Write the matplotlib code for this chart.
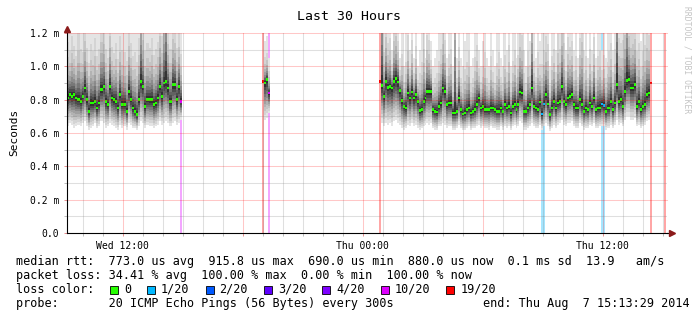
import numpy as np
import matplotlib
matplotlib.use("Agg")
import matplotlib.pyplot as plt
from matplotlib.patches import Rectangle

# ---------------- data ----------------
title = "Last 30 Hours"
y_label = "Seconds"
t_start, t_end = 9.225, 39.225          # hours since Wed 00:00 (30 h window)
x_tick_hours = [12, 24, 36]
x_tick_labels = ["Wed 12:00", "Thu 00:00", "Thu 12:00"]
y_tick_values = [0.0, 0.2, 0.4, 0.6, 0.8, 1.0, 1.2]
y_tick_labels = ["0.0", "0.2 m", "0.4 m", "0.6 m", "0.8 m", "1.0 m", "1.2 m"]

# segment 1 (Wed morning)
seg1_span = (9.225, 14.975)
seg1_median = [0.81, 0.83, 0.82, 0.83, 0.81, 0.80, 0.79, 0.82, 0.87, 0.80,
               0.73, 0.78, 0.78, 0.79, 0.75, 0.78, 0.86, 0.88, 0.79, 0.77,
               0.88, 0.81, 0.80, 0.79, 0.75, 0.83, 0.77, 0.77, 0.73, 0.85,
               0.80, 0.75, 0.73, 0.71, 0.80, 0.91, 0.88, 0.76, 0.80, 0.80,
               0.80, 0.77, 0.78, 0.81, 0.88, 0.82, 0.90, 0.91, 0.87, 0.79,
               0.89, 0.89, 0.80, 0.88, 0.79]
seg1_hi = [1.35, 1.25, 1.4, 1.3, 1.22, 1.45, 1.3, 1.25, 1.5, 1.3,
           1.2, 1.35, 1.28, 1.4, 1.25, 1.3, 1.5, 1.45, 1.3, 1.22,
           1.55, 1.3, 1.25, 1.35, 1.22, 1.4, 1.3, 1.28, 1.22, 1.45,
           1.35, 1.25, 1.3, 1.22, 1.4, 2.0, 1.5, 1.3, 1.35, 1.3,
           1.4, 1.25, 1.3, 1.35, 1.55, 1.4, 1.8, 2.5, 1.45, 1.3,
           1.5, 1.45, 1.3, 1.4, 1.25]
seg1_lo = [0.64, 0.66, 0.65, 0.63, 0.64, 0.65, 0.64, 0.66, 0.67, 0.64,
           0.62, 0.63, 0.64, 0.66, 0.63, 0.64, 0.67, 0.66, 0.63, 0.64,
           0.66, 0.65, 0.64, 0.63, 0.62, 0.65, 0.63, 0.64, 0.62, 0.66,
           0.65, 0.63, 0.63, 0.62, 0.64, 0.67, 0.66, 0.63, 0.65, 0.64,
           0.64, 0.63, 0.64, 0.65, 0.67, 0.65, 0.66, 0.67, 0.66, 0.64,
           0.66, 0.67, 0.65, 0.66, 0.68]
seg1_loss = {54: 10}

# segment 2 (short burst Wed evening)
seg2_span = (18.99, 19.375)
seg2_median = [0.91, 0.90, 0.92, 0.84]
seg2_hi = [0.91, 1.15, 1.18, 1.05]
seg2_lo = [0.91, 0.68, 0.69, 0.72]
seg2_loss = {0: 19, 3: 10}

# segment 3 (Thu)
seg3_span = (24.825, 38.475)
seg3_median = [0.91, 0.886, 0.82, 0.91, 0.874, 0.88, 0.87, 0.91, 0.926, 0.906,
               0.854, 0.794, 0.76, 0.75, 0.84, 0.81, 0.846, 0.81, 0.83, 0.79,
               0.734, 0.74, 0.79, 0.81, 0.85, 0.85, 0.85, 0.74, 0.73, 0.726,
               0.76, 0.78, 0.87, 0.85, 0.77, 0.78, 0.78, 0.72, 0.72, 0.73,
               0.81, 0.74, 0.714, 0.72, 0.74, 0.75, 0.72, 0.73, 0.74, 0.77,
               0.81, 0.75, 0.76, 0.74, 0.74, 0.74, 0.75, 0.75, 0.74, 0.73,
               0.73, 0.75, 0.73, 0.77, 0.75, 0.76, 0.72, 0.76, 0.77, 0.74,
               0.77, 0.846, 0.84, 0.73, 0.73, 0.75, 0.77, 0.87, 0.76, 0.75,
               0.74, 0.785, 0.714, 0.774, 0.83, 0.774, 0.71, 0.75, 0.79, 0.75,
               0.78, 0.79, 0.88, 0.79, 0.77, 0.81,
               0.82, 0.83, 0.77, 0.75, 0.75, 0.80, 0.77, 0.73, 0.75, 0.74,
               0.78, 0.76, 0.81, 0.74, 0.75, 0.75, 0.774, 0.766, 0.73, 0.75,
               0.75, 0.79, 0.74, 0.78, 0.89, 0.79, 0.80, 0.76, 0.85, 0.914,
               0.92, 0.87, 0.87, 0.89, 0.76, 0.79, 0.74, 0.76, 0.77, 0.83,
               0.84, 0.90]
seg3_hi = [0.91, 2.5, 1.25, 1.5, 1.3, 1.35, 1.1, 1.45, 1.5, 1.3,
           1.05, 1.25, 1.0, 1.2, 1.4, 1.1, 1.35, 1.05, 1.3, 1.0,
           1.1, 1.2, 1.3, 1.05, 1.4, 1.35, 1.15, 1.0, 1.05, 1.1,
           1.2, 1.3, 1.45, 1.35, 1.05, 1.25, 1.3, 1.0, 2.4, 1.05,
           1.3, 1.05, 1.0, 1.15, 1.2, 1.3, 1.0, 1.05, 1.25, 1.35,
           1.1, 1.0, 1.15, 1.3, 1.05, 1.0, 1.25, 1.1, 1.0, 1.2,
           1.3, 1.05, 1.0, 1.25, 1.1, 1.35, 1.0, 1.2, 1.3, 1.05,
           1.25, 1.45, 1.4, 1.1, 1.0, 1.3, 1.15, 1.9, 1.2, 1.05,
           1.3, 1.15, 1.2, 1.3, 1.4, 1.35, 1.0, 1.25, 1.3, 1.1,
           1.45, 1.3, 1.6, 1.35, 1.1, 1.4,
           1.3, 1.35, 1.1, 1.25, 1.05, 1.4, 1.6, 1.1, 1.25, 1.05,
           1.3, 1.1, 1.4, 1.05, 1.25, 1.3, 1.1, 1.25, 1.05, 1.2,
           1.3, 1.35, 1.1, 1.3, 2.6, 1.4, 1.35, 1.4, 1.6, 2.2,
           1.5, 1.4, 1.45, 1.5, 1.3, 1.35, 1.15, 1.3, 1.35, 1.45,
           1.4, 0.90]
seg3_lo = [0.91, 0.66, 0.64, 0.66, 0.65, 0.66, 0.64, 0.67, 0.68, 0.66,
           0.65, 0.63, 0.62, 0.63, 0.65, 0.64, 0.66, 0.64, 0.65, 0.63,
           0.62, 0.63, 0.64, 0.65, 0.66, 0.65, 0.66, 0.63, 0.62, 0.62,
           0.64, 0.64, 0.66, 0.65, 0.63, 0.64, 0.64, 0.62, 0.62, 0.63,
           0.65, 0.63, 0.62, 0.62, 0.63, 0.64, 0.62, 0.63, 0.63, 0.64,
           0.65, 0.63, 0.64, 0.63, 0.63, 0.62, 0.64, 0.63, 0.63, 0.62,
           0.62, 0.64, 0.62, 0.64, 0.63, 0.64, 0.62, 0.64, 0.65, 0.63,
           0.64, 0.67, 0.66, 0.62, 0.62, 0.63, 0.64, 0.66, 0.64, 0.63,
           0.63, 0.65, 0.62, 0.64, 0.66, 0.64, 0.61, 0.63, 0.65, 0.63,
           0.65, 0.66, 0.68, 0.65, 0.64, 0.66,
           0.66, 0.67, 0.64, 0.63, 0.63, 0.66, 0.64, 0.62, 0.63, 0.63,
           0.65, 0.64, 0.66, 0.63, 0.63, 0.64, 0.64, 0.64, 0.62, 0.63,
           0.63, 0.65, 0.63, 0.65, 0.68, 0.65, 0.66, 0.64, 0.68, 0.70,
           0.70, 0.68, 0.68, 0.69, 0.64, 0.65, 0.63, 0.64, 0.65, 0.67,
           0.68, 0.90]
seg3_loss = {0: 19, 82: 1, 83: 1, 112: 1, 113: 1, 137: 19}

# current sample: 100 % loss
now_loss_span = (39.075, 39.175)
now_loss = 20

loss_levels = [0, 1, 2, 3, 4, 10, 19]
loss_colors = ["#26ff00", "#00b8ff", "#0059ff", "#5e00ff", "#7e00ff", "#dd00ff", "#ff0000"]
loss_labels = ["0", "1/20", "2/20", "3/20", "4/20", "10/20", "19/20"]

legend_rtt = "median rtt:  773.0 us avg  915.8 us max  690.0 us min  880.0 us now  0.1 ms sd  13.9   am/s"
legend_loss = "packet loss: 34.41 % avg  100.00 % max  0.00 % min  100.00 % now"
legend_color_title = "loss color:"
legend_probe = "probe:       20 ICMP Echo Pings (56 Bytes) every 300s"
legend_end = "end: Thu Aug  7 15:13:29 2014"
watermark = "RRDTOOL / TOBI OETIKER"

# ---------------- style ----------------
W, H = 697, 321
MONO = "DejaVu Sans Mono"
smoke_hi_frac = [1.0, 0.62, 0.45, 0.34, 0.26, 0.20, 0.15, 0.11, 0.075, 0.04]
smoke_lo_frac = [1.0, 0.88, 0.77, 0.66, 0.56, 0.47, 0.38, 0.29, 0.20, 0.11]
smoke_colors = ["#e4e4e4", "#d4d4d4", "#c4c4c4", "#b2b2b2", "#a0a0a0",
                "#8c8c8c", "#777777", "#626262", "#4c4c4c", "#333333"]


def loss_color(n):
    c = loss_colors[0]
    for lvl, col in zip(loss_levels, loss_colors):
        if n >= lvl:
            c = col
    return c


def fx(px):
    return px / W


def fy(py):
    return 1 - py / H


fig = plt.figure(figsize=(W / 100, H / 100), dpi=100)
fig.patch.set_facecolor("white")
ax = fig.add_axes([fx(67), fy(233), 600 / W, 200 / H])
ax.set_xlim(t_start, t_end)
ax.set_ylim(0, 1.2)
ax.set_facecolor("white")

segments = [
    (seg1_span, seg1_median, seg1_hi, seg1_lo, seg1_loss),
    (seg2_span, seg2_median, seg2_hi, seg2_lo, seg2_loss),
    (seg3_span, seg3_median, seg3_hi, seg3_lo, seg3_loss),
]

for span, med, hi, lo, loss in segments:
    med = np.asarray(med, float)
    hi = np.asarray(hi, float)
    lo = np.asarray(lo, float)
    n = len(med)
    dt = (span[1] - span[0]) / n
    left = span[0] + dt * np.arange(n)
    edges = span[0] + dt * np.arange(n + 1)
    # loss bars (behind smoke)
    for i, cnt in loss.items():
        ax.axvspan(left[i], left[i] + dt, color=loss_color(cnt), alpha=0.35, lw=0, zorder=1)
    # smoke
    for fh, fl, col in zip(smoke_hi_frac, smoke_lo_frac, smoke_colors):
        up = med + (hi - med) * fh
        dn = med - (med - lo) * fl
        ax.fill_between(edges, np.append(dn, dn[-1]), np.append(up, up[-1]),
                        step="post", color=col, lw=0, zorder=2, antialiased=False)
    # median dashes
    cols = [loss_color(loss.get(i, 0)) for i in range(n)]
    ax.bar(left, 0.015, width=dt, bottom=med - 0.0075, align="edge",
           color=cols, lw=0, zorder=4)

ax.axvspan(now_loss_span[0], now_loss_span[1], color=loss_color(now_loss), alpha=0.35, lw=0, zorder=1)

# grid on top
for h in range(10, 40):
    if h % 6 == 0:
        ax.axvline(h, color="#ff0000", alpha=0.22, lw=0.75, zorder=5)
    else:
        ax.axvline(h, color="#808080", alpha=0.25, lw=0.75, zorder=5)
for k in range(1, 13):
    v = k * 0.1
    if k % 2 == 0:
        ax.axhline(v, color="#ff0000", alpha=0.22, lw=0.75, zorder=5, clip_on=False)
    else:
        ax.axhline(v, color="#808080", alpha=0.25, lw=0.75, zorder=5)

# axes
for s in ["top", "right"]:
    ax.spines[s].set_visible(False)
for s in ["left", "bottom"]:
    ax.spines[s].set_color("black")
    ax.spines[s].set_linewidth(0.8)
    ax.spines[s].set_zorder(6)

ax.set_xticks([12, 18, 24, 30, 36])
ax.set_xticklabels([x_tick_labels[x_tick_hours.index(h)] if h in x_tick_hours else "" for h in [12, 18, 24, 30, 36]],
                   family=MONO, fontsize=7)
ax.set_xticks(range(10, 40), minor=True)
ax.set_yticks(y_tick_values)
ax.set_yticklabels(y_tick_labels, family=MONO, fontsize=7)
ax.set_yticks([0.1, 0.3, 0.5, 0.7, 0.9, 1.1], minor=True)
ax.tick_params(axis="both", which="major", length=2.5, width=0.7, color="#e89090", pad=3)
ax.tick_params(axis="both", which="minor", length=2.0, width=0.7, color="#bbbbbb")

# arrows
ax.plot([1.0, 1.008], [0, 0], transform=ax.transAxes, color="black", lw=0.8, clip_on=False, zorder=6)
ax.plot([1.009], [0], marker=">", ms=4, color="#8b1a1a", transform=ax.transAxes, clip_on=False, zorder=7)
ax.plot([0], [1.022], marker="^", ms=4, color="#8b1a1a", transform=ax.transAxes, clip_on=False, zorder=7)

# texts
fig.text(fx(349), fy(16), title, ha="center", va="center", family=MONO, fontsize=9.5)
fig.text(fx(14), fy(132), y_label, ha="center", va="center", rotation=90, family=MONO, fontsize=8)
fig.text(fx(687), fy(6), watermark, ha="center", va="top", rotation=-90, family=MONO,
         fontsize=5.8, color="#c4c4c4")

fs = 8.5
cw = 0.602 * fs / 72 * 100
fig.text(fx(16), fy(261.5), legend_rtt, ha="left", va="center", family=MONO, fontsize=fs)
fig.text(fx(16), fy(275.5), legend_loss, ha="left", va="center", family=MONO, fontsize=fs)
fig.text(fx(16), fy(289.5), legend_color_title, ha="left", va="center", family=MONO, fontsize=fs)
fig.text(fx(16), fy(303.5), legend_probe, ha="left", va="center", family=MONO, fontsize=fs)
fig.text(fx(690), fy(303.5), legend_end, ha="right", va="center", family=MONO, fontsize=fs)

bx = 110.0
for col, lab in zip(loss_colors, loss_labels):
    fig.patches.append(Rectangle((fx(bx), fy(293.5)), 8 / W, 8 / H, transform=fig.transFigure,
                                 facecolor=col, edgecolor="black", lw=0.6))
    fig.text(fx(bx + 14), fy(289.5), lab, ha="left", va="center", family=MONO, fontsize=fs)
    bx += 14 + len(lab) * cw + 16

fig.savefig("out.png", dpi=100)
